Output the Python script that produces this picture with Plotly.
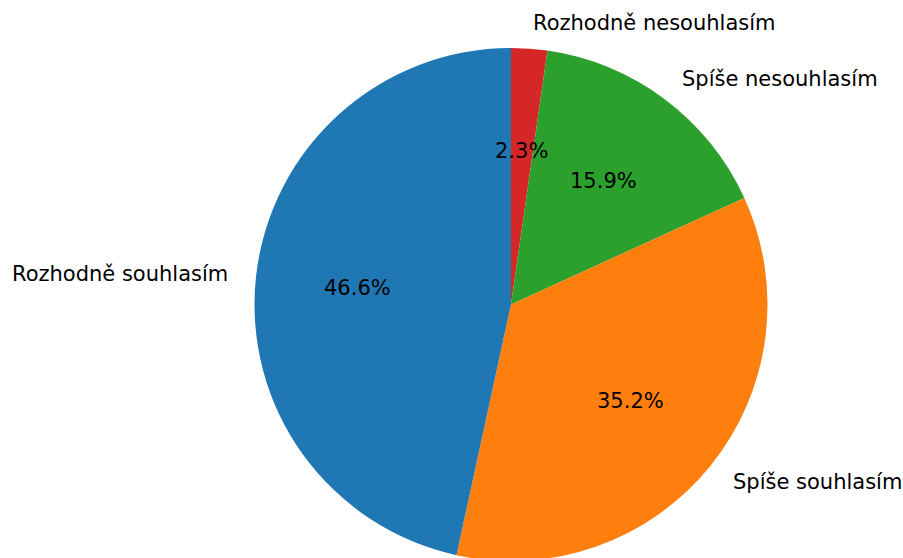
import math
import plotly.graph_objects as go

labels = ["Rozhodně souhlasím", "Spíše souhlasím", "Spíše nesouhlasím", "Rozhodně nesouhlasím"]
counts = [41, 31, 14, 2]
colors = ["#1f77b4", "#ff7f0e", "#2ca02c", "#d62728"]

W, H = 903, 570
cx, cy, r = 511.0, 304.5, 256.5

fig = go.Figure(go.Pie(
    labels=labels[::-1], values=counts[::-1], sort=False, direction="clockwise",
    rotation=0, marker=dict(colors=colors[::-1], line=dict(width=0)),
    textinfo="none", hoverinfo="label+percent", showlegend=False,
    domain=dict(x=[(cx - r) / W, (cx + r) / W], y=[max(0, 1 - (cy + r) / H), 1 - (cy - r) / H]),
))

total = sum(counts)
ang = 90.0
annotations = []
font = dict(family="DejaVu Sans", size=21, color="#000000")
for lab, v in zip(labels, counts):
    span = v / total * 360.0
    mid = math.radians(ang + span / 2)
    ang += span
    c, s = math.cos(mid), math.sin(mid)
    lx, ly = cx + 1.1 * r * c, cy - 1.1 * r * s
    annotations.append(dict(x=lx / W, y=1 - ly / H, xref="paper", yref="paper",
                            text=lab, showarrow=False, font=font,
                            xanchor="left" if c > 0 else "right", yanchor="middle"))
    px, py = cx + 0.6 * r * c, cy - 0.6 * r * s
    annotations.append(dict(x=px / W, y=1 - py / H, xref="paper", yref="paper",
                            text=f"{v / total * 100:.1f}%", showarrow=False, font=font,
                            xanchor="center", yanchor="middle"))

fig.update_layout(width=W, height=H, margin=dict(l=0, r=0, t=0, b=0),
                  paper_bgcolor="white", plot_bgcolor="white",
                  annotations=annotations)
fig.write_html("out.html", config={"displayModeBar": False},
               post_script="document.body.style.margin='0';document.body.style.overflow='hidden';")
